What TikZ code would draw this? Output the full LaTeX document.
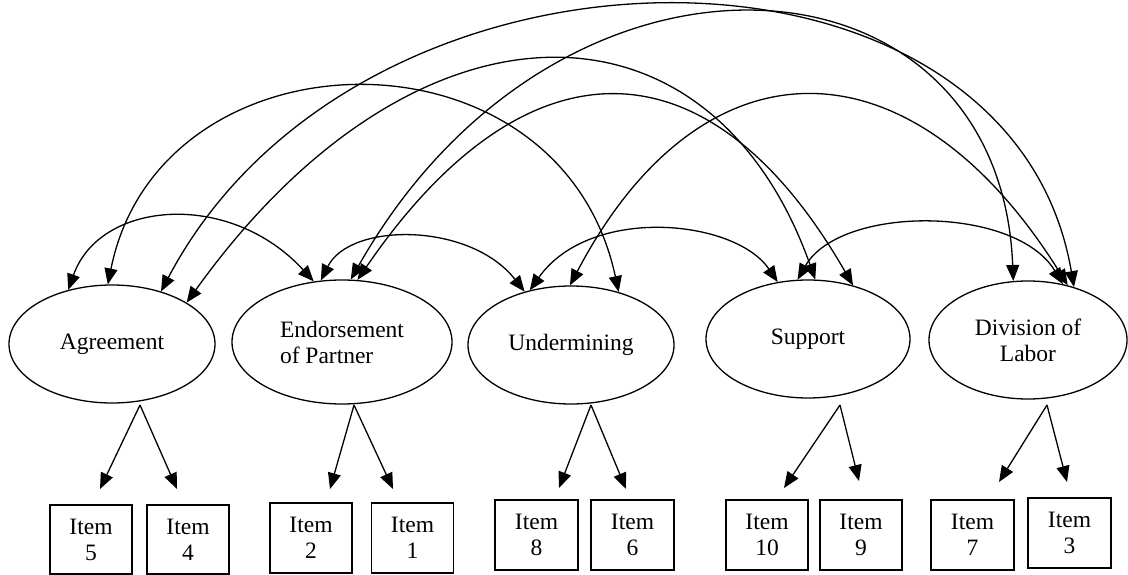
\documentclass[tikz,border=0pt]{standalone}
\usepackage{fontspec}
\setmainfont{Liberation Serif}
\usetikzlibrary{arrows.meta,shapes.geometric}
\begin{document}
\begin{tikzpicture}[x=1pt,y=-1pt,
  every node/.style={font=\fontsize{23.5}{26}\selectfont},
  latent/.style={draw,ellipse,line width=1.3pt,inner sep=0pt,align=center},
  itembox/.style={draw,rectangle,line width=1.3pt,inner sep=0pt,minimum width=82pt,minimum height=69pt,align=center},
  cov/.style={line width=1.3pt,{Triangle[length=16pt,width=13pt]}-{Triangle[length=16pt,width=13pt]}},
  load/.style={line width=1.3pt,-{Triangle[length=16pt,width=13pt]}},
]
\useasboundingbox (0,0) rectangle (1128,575);

% latent factors
\node[latent,minimum width=206pt,minimum height=118pt] (ag) at (112,344) {Agreement};
\node[latent,align=left,minimum width=220pt,minimum height=124pt] (en) at (342,342) {Endorsement\\of Partner};
\node[latent,minimum width=206pt,minimum height=118pt] (un) at (571,345) {Undermining};
\node[latent,minimum width=204pt,minimum height=118pt] (su) at (808,339) {Support};
\node[latent,minimum width=198pt,minimum height=118pt] (dl) at (1028,340) {Division of\\Labor};

% items
\node[itembox] (i5) at (91,539.5) {Item\\5};
\node[itembox] (i4) at (188,539.5) {Item\\4};
\node[itembox,minimum height=70pt] (i2) at (311,538) {Item\\2};
\node[itembox,minimum height=70pt] (i1) at (412.5,538) {Item\\1};
\node[itembox,minimum width=83pt,minimum height=70pt] (i8) at (536.5,535) {Item\\8};
\node[itembox,minimum width=83pt,minimum height=70pt] (i6) at (632.5,535) {Item\\6};
\node[itembox,minimum height=70pt] (i10) at (767,535) {Item\\10};
\node[itembox,minimum height=70pt] (i9) at (861,535) {Item\\9};
\node[itembox,minimum width=83pt,minimum height=70pt] (i7) at (972.5,535) {Item\\7};
\node[itembox,minimum width=83pt,minimum height=70pt] (i3) at (1069.5,533) {Item\\3};

% loading start / end points
\coordinate (agb) at (140,405);
\coordinate (enb) at (354,405);
\coordinate (unb) at (591,405);
\coordinate (sub) at (840,405);
\coordinate (dlb) at (1047,405);
\coordinate (t5) at (100,489);
\coordinate (t4) at (177,489);
\coordinate (t2) at (330,489);
\coordinate (t1) at (393,489);
\coordinate (t8) at (559,488);
\coordinate (t6) at (626,489);
\coordinate (t10) at (784,488);
\coordinate (t9) at (859,481);
\coordinate (t7) at (999,482);
\coordinate (t3) at (1067,482);

\draw[load] (agb) -- (t5);
\draw[load] (agb) -- (t4);
\draw[load] (enb) -- (t2);
\draw[load] (enb) -- (t1);
\draw[load] (unb) -- (t8);
\draw[load] (unb) -- (t6);
\draw[load] (sub) -- (t10);
\draw[load] (sub) -- (t9);
\draw[load] (dlb) -- (t7);
\draw[load] (dlb) -- (t3);

% covariances
\draw[cov] (ag.129.5) .. controls (100,200) and (230,190) .. (en.115.9);
\draw[cov] (en.109.9) .. controls (350,222) and (470,222) .. (un.131.8);
\draw[cov] (un.127.2) .. controls (590,205) and (735,219) .. (su.118.9);
\draw[cov] (su.100.6) .. controls (840,205) and (1015,205) .. (dl.58.5);
\draw[cov] (ag.94.9) .. controls (160,25) and (560,18) .. (un.48.9);
\draw[cov] (ag.47.4) .. controls (361,-88) and (1010,-88) .. (dl.49.4);
\draw[cov] (en.82.6) .. controls (560,-90) and (1000,-60) .. (dl.104.4);
\draw[cov] (ag.29.7) .. controls (415,-16) and (710,-16) .. (su.83.2);
\draw[cov] (en.76.3) .. controls (525,35) and (709,35) .. (su.50.4);
\draw[cov] (un.91) .. controls (702,34) and (911,34) .. (dl.54.3);
\end{tikzpicture}
\end{document}
